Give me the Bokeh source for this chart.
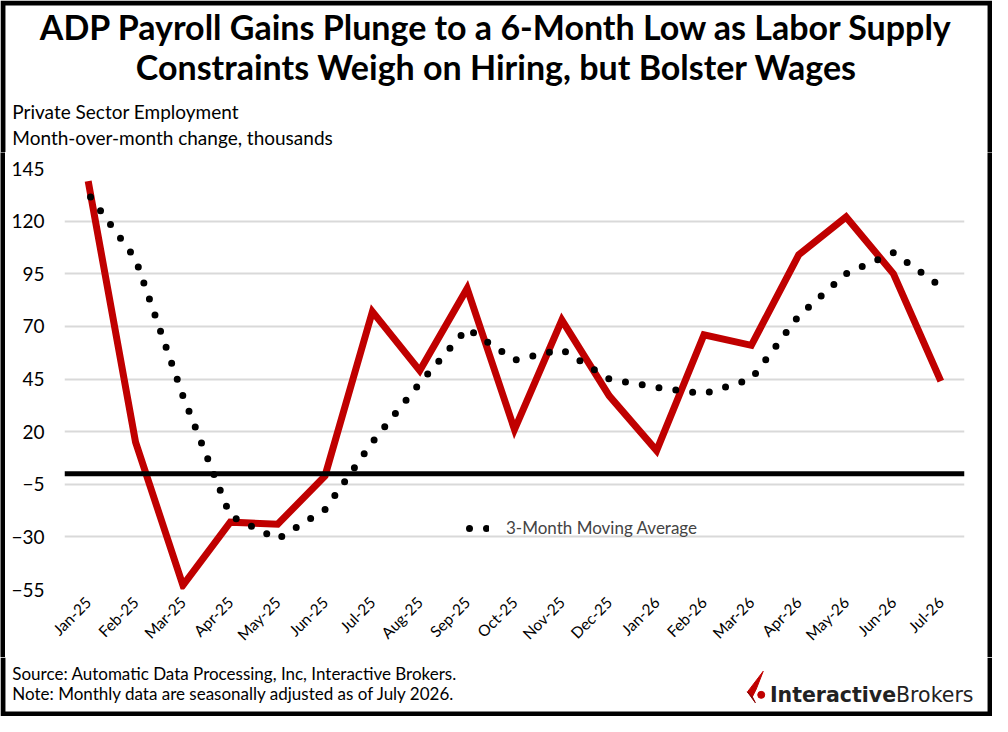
from bokeh.plotting import figure
from bokeh.layouts import column, row
from bokeh.models import (ColumnDataSource, FactorRange, Range1d, FixedTicker, Span,
                          Label, Legend, LegendItem)
from bokeh.embed import file_html
from bokeh.resources import INLINE
from math import pi

months = ["Jan-25", "Feb-25", "Mar-25", "Apr-25", "May-25", "Jun-25", "Jul-25",
          "Aug-25", "Sep-25", "Oct-25", "Nov-25", "Dec-25", "Jan-26", "Feb-26",
          "Mar-26", "Apr-26", "May-26", "Jun-26", "Jul-26"]
adp_change = [139, 15, -53, -23, -24, -1, 77, 49, 88, 21, 73, 37, 11, 66, 61, 104, 122, 95, 44]
moving_avg = [133, 102, 37, -20, -31, -17, 15, 43, 69, 54, 59, 45, 41, 38, 45, 75, 95, 105, 89]
y_ticks = [-55, -30, -5, 20, 45, 70, 95, 120, 145]

RED = "#c00000"
FONT = "Lato"
W = 992
EDGE = 5  # black frame round the whole picture


def bare(width, height, x_range, y_range, fill=None):
    f = figure(width=width, height=height, x_range=x_range, y_range=y_range,
               x_axis_type=None, y_axis_type=None, title=None,
               output_backend="svg", toolbar_location=None, min_border=0)
    f.frame_align = False
    f.outline_line_color = None
    f.border_fill_color = fill
    f.background_fill_color = fill
    return f


def text(f, x, y, s, size, align="left", style="normal", color="black", font=FONT):
    f.add_layout(Label(x=x, y=y, text=s, text_font=font, text_font_size=size,
                       text_font_style=style, text_color=color, text_align=align,
                       text_baseline="middle"))


# header: data space is the reference picture's pixel space
head = bare(W, 152, Range1d(0, 1008), Range1d(155, 0))
head.line([2.5, 2.5, 1005.5, 1005.5], [155, 2.5, 2.5, 155], line_color="black",
          line_width=EDGE, line_join="miter")
text(head, 504, 27, "ADP Payroll Gains Plunge to a 6-Month Low as Labor Supply", "34px", "center", "bold")
text(head, 504, 67, "Constraints Weigh on Hiring, but Bolster Wages", "34px", "center", "bold")
text(head, 12, 113.5, "Private Sector Employment", "19px")
text(head, 12, 139.5, "Month-over-month change, thousands", "19px")

# chart
source = ColumnDataSource(dict(month=months, adp=adp_change, ma=moving_avg))

p = figure(width=W - 2 * EDGE, height=505, x_range=FactorRange(*months), y_range=Range1d(-55, 145),
           title=None, output_backend="svg", toolbar_location=None,
           min_border_left=64 - EDGE, min_border_right=28 - EDGE, min_border_top=16, min_border_bottom=68)
p.frame_align = False
p.outline_line_color = None

p.xgrid.grid_line_color = None
p.ygrid.grid_line_color = "#d9d9d9"
p.ygrid.grid_line_width = 2
p.yaxis.ticker = FixedTicker(ticks=y_ticks)

for ax in (p.xaxis, p.yaxis):
    ax.axis_line_color = None
    ax.major_tick_line_color = None
    ax.minor_tick_line_color = None
    ax.major_tick_out = 0
    ax.major_tick_in = 0
    ax.minor_tick_out = 0
    ax.major_label_text_font = FONT
    ax.major_label_text_color = "black"
p.yaxis.major_label_text_font_size = "19px"
p.yaxis.major_label_standoff = 20
p.xaxis.major_label_text_font_size = "15.5px"
p.xaxis.major_label_orientation = pi / 4
p.xaxis.major_label_standoff = 10

p.add_layout(Span(location=0, dimension="width", line_color="black", line_width=5))

p.line("month", "adp", source=source, line_color=RED, line_width=7, line_join="miter")
ma_line = p.line("month", "ma", source=source, line_color="black", line_width=7,
                 line_dash="0 17", line_dash_offset=13, line_cap="round")

legend = Legend(items=[LegendItem(label="3-Month Moving Average", renderers=[ma_line])],
                location=(401, 51), padding=0, margin=0, spacing=0,
                glyph_width=24, glyph_height=20, label_standoff=17,
                border_line_color=None, background_fill_alpha=0,
                label_text_font=FONT, label_text_font_size="17px")
p.add_layout(legend)

left_edge = bare(EDGE, 505, Range1d(0, 1), Range1d(0, 1), "black")
right_edge = bare(EDGE, 505, Range1d(0, 1), Range1d(0, 1), "black")

# footer
foot = bare(W, 59, Range1d(0, 1008), Range1d(732, 672))
foot.line([2.5, 2.5, 1005.5, 1005.5], [672, 729.5, 729.5, 672], line_color="black",
          line_width=EDGE, line_join="miter")
text(foot, 12, 688.5, "Source: Automatic Data Processing, Inc, Interactive Brokers.", "17px")
text(foot, 12, 708.5, "Note: Monthly data are seasonally adjusted as of July 2026.", "17px")
text(foot, 910, 710, "Interactive", "20.5px", "right", "bold", "#222222", "DejaVu Sans")
text(foot, 910, 710, "Brokers", "20.5px", "left", "normal", "#222222", "DejaVu Sans")
foot.patch([775, 759, 764, 768], [686, 707, 712, 704], color=RED)
foot.patch([759, 767, 764], [707, 718, 712], color="#8a0000")
foot.scatter([773], [710], size=7, color=RED)

page = column(head, row(left_edge, p, right_edge, spacing=0), foot, spacing=0)

open("out.html", "w").write(file_html(page, INLINE))
